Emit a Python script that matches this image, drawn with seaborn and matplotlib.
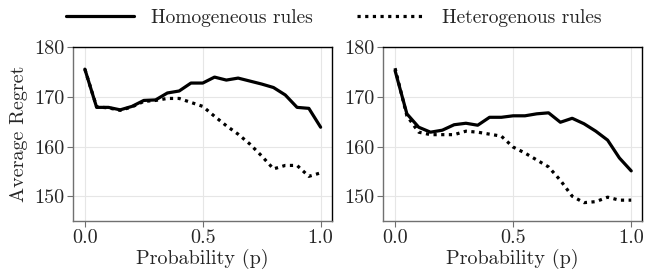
import matplotlib
matplotlib.use("Agg")
import matplotlib.pyplot as plt
import seaborn as sns
import pandas as pd
import numpy as np

# probability grid shared by both panels
p = [0.0, 0.05, 0.10, 0.15, 0.20, 0.25, 0.30, 0.35, 0.40, 0.45, 0.50,
     0.55, 0.60, 0.65, 0.70, 0.75, 0.80, 0.85, 0.90, 0.95, 1.0]

left_homog = [175.6, 167.9, 167.9, 167.4, 168.1, 169.3, 169.4, 170.8, 171.2, 172.8, 172.8,
              174.0, 173.4, 173.8, 173.2, 172.6, 171.9, 170.4, 167.9, 167.7, 163.9]
left_heter = [175.6, 168.0, 167.8, 167.3, 168.0, 169.1, 169.3, 169.7, 169.7, 168.9, 168.1,
              166.1, 164.2, 162.5, 160.5, 158.1, 155.5, 156.2, 156.2, 154.0, 154.7]

right_homog = [175.3, 166.6, 163.9, 162.9, 163.3, 164.4, 164.7, 164.3, 165.9, 165.9, 166.2,
               166.2, 166.6, 166.8, 164.9, 165.7, 164.6, 163.1, 161.3, 157.7, 155.1]
right_heter = [175.8, 166.2, 162.9, 162.4, 162.4, 162.4, 163.1, 162.9, 162.5, 162.1, 159.9,
               158.7, 157.3, 155.9, 153.2, 150.0, 148.7, 148.9, 149.8, 149.2, 149.2]

labels = ["Homogeneous rules", "Heterogenous rules"]
yticks = [150, 160, 170, 180]
xticks = [0.0, 0.5, 1.0]

sns.set_style("whitegrid")
plt.rcParams['font.family'] = ['cmr10', 'DejaVu Serif']
plt.rcParams['mathtext.fontset'] = 'cm'
plt.rcParams['axes.formatter.use_mathtext'] = True
plt.rcParams['font.size'] = 14.5

fig = plt.figure(figsize=(6.6, 2.72), dpi=100)
ax1 = fig.add_axes([0.110, 0.1875, 0.3926, 0.6385])
ax2 = fig.add_axes([0.580, 0.1875, 0.3932, 0.6385])

panels = [(ax1, left_homog, left_heter), (ax2, right_homog, right_heter)]
for ax, homog, heter in panels:
    df = pd.DataFrame({"p": p * 2,
                       "regret": homog + heter,
                       "rule": [labels[0]] * len(p) + [labels[1]] * len(p)})
    sns.lineplot(data=df[df.rule == labels[0]], x="p", y="regret", ax=ax,
                 color="black", lw=2.3, label=labels[0], legend=False)
    sns.lineplot(data=df[df.rule == labels[1]], x="p", y="regret", ax=ax,
                 color="black", lw=2.3, linestyle=(0, (1, 1.4)), label=labels[1], legend=False)
    ax.set_ylim(145, 180)
    ax.set_xlim(-0.052, 1.047)
    ax.set_yticks(yticks)
    ax.set_yticklabels([str(t) for t in yticks])
    ax.set_xticks(xticks)
    ax.set_xticklabels(["%.1f" % t for t in xticks])
    ax.set_xlabel("Probability (p)", labelpad=1)
    ax.set_ylabel("")
    ax.grid(True, color="#e6e6e6", lw=0.8)
    for s in ["left", "bottom"]:
        ax.spines[s].set_color("#707070")
    for s in ["top", "right"]:
        ax.spines[s].set_color("black")
    for s in ax.spines.values():
        s.set_linewidth(1.0)
    ax.tick_params(axis="both", which="major", length=4, width=0.8, color="#707070",
                   direction="out", pad=2, labelsize=14.5, bottom=True, left=True)

ax1.set_ylabel("Average Regret", labelpad=4)

handles, lbls = ax1.get_legend_handles_labels()
fig.legend(handles, lbls, loc="center", bbox_to_anchor=(0.506, 0.935), ncol=2,
           frameon=False, fontsize=14, handlelength=3.5, columnspacing=2.27,
           handletextpad=0.88)

fig.savefig("out.png", dpi=100)
